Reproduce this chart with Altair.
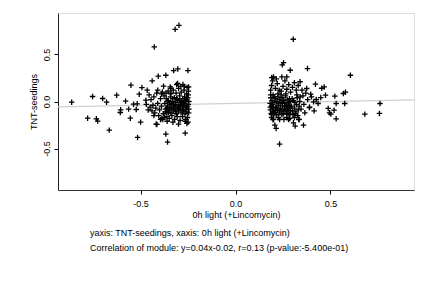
import altair as alt
import pandas as pd

# ---- data ----
left_outliers = [
    [-0.863, -0.007], [-0.779, -0.177], [-0.753, 0.053], [-0.733, -0.184], [-0.726, -0.208],
    [-0.700, 0.032], [-0.679, -0.007], [-0.665, -0.304], [-0.626, 0.067], [-0.605, -0.088],
    [-0.607, -0.117], [-0.579, 0.004], [-0.563, -0.081], [-0.554, -0.177], [-0.551, 0.173],
    [-0.516, -0.382], [-0.500, -0.219], [-0.493, 0.148], [-0.518, -0.025], [-0.507, 0.078],
    [-0.537, -0.028], [-0.523, -0.085], [-0.472, 0.014], [-0.465, 0.120], [-0.439, 0.219],
    [-0.428, 0.580], [-0.418, -0.240], [-0.407, 0.269], [-0.388, -0.180], [-0.379, 0.163],
    [-0.367, -0.346], [-0.367, 0.279], [-0.358, -0.431], [-0.326, 0.329], [-0.318, 0.767],
    [-0.304, 0.346], [-0.298, 0.809], [-0.305, 0.191], [-0.277, 0.180], [-0.265, -0.336],
    [-0.251, 0.329], [-0.247, 0.155], [-0.256, -0.233], [-0.344, 0.155], [-0.414, -0.244],
    [-0.455, 0.070], [-0.340, 0.090],
]
left_core = [
    [-0.372, -0.02], [-0.368, -0.08], [-0.365, 0.03], [-0.361, -0.11], [-0.357, -0.05],
    [-0.354, 0.01], [-0.350, -0.09], [-0.347, -0.03], [-0.343, 0.05], [-0.340, -0.12],
    [-0.336, -0.06], [-0.333, 0.00], [-0.329, -0.10], [-0.326, -0.04], [-0.322, 0.04],
    [-0.319, -0.08], [-0.315, -0.01], [-0.312, -0.13], [-0.308, -0.06], [-0.305, 0.02],
    [-0.301, -0.10], [-0.298, -0.03], [-0.294, 0.06], [-0.291, -0.07], [-0.287, -0.12],
    [-0.284, -0.01], [-0.280, -0.05], [-0.277, 0.03], [-0.273, -0.09], [-0.270, -0.02],
    [-0.266, -0.13], [-0.263, 0.01], [-0.259, -0.06], [-0.256, -0.11], [-0.252, 0.04],
    [-0.249, -0.03], [-0.246, -0.08], [-0.246, 0.00], [-0.247, -0.12], [-0.249, 0.07],
    [-0.252, -0.05], [-0.258, 0.02], [-0.262, -0.08], [-0.268, 0.05], [-0.272, -0.04],
    [-0.278, -0.10], [-0.283, 0.00], [-0.289, -0.04], [-0.293, 0.01], [-0.297, -0.08],
    [-0.303, -0.05], [-0.310, 0.03], [-0.314, -0.11], [-0.318, -0.03], [-0.324, -0.07],
    [-0.331, 0.03], [-0.338, -0.02], [-0.345, -0.07], [-0.352, -0.12], [-0.359, 0.00],
    [-0.363, -0.07], [-0.370, -0.11],
]
left_spread = [
    [-0.450, -0.06], [-0.440, -0.10], [-0.445, 0.02], [-0.435, -0.04], [-0.430, 0.05],
    [-0.425, -0.12], [-0.420, -0.07], [-0.415, 0.09], [-0.410, -0.02], [-0.405, -0.15],
    [-0.400, -0.09], [-0.395, 0.03], [-0.390, -0.05], [-0.385, 0.10], [-0.383, -0.19],
    [-0.380, -0.13], [-0.376, 0.06], [-0.373, -0.17], [-0.366, 0.09], [-0.362, -0.16],
    [-0.355, 0.11], [-0.349, -0.18], [-0.342, 0.08], [-0.335, -0.15], [-0.328, 0.12],
    [-0.321, -0.19], [-0.313, 0.09], [-0.307, -0.16], [-0.300, 0.14], [-0.292, -0.20],
    [-0.286, 0.10], [-0.279, -0.16], [-0.271, 0.12], [-0.265, -0.21], [-0.258, 0.08],
    [-0.253, -0.17], [-0.248, 0.11], [-0.250, -0.22], [-0.255, 0.15], [-0.262, -0.19],
    [-0.270, 0.16], [-0.288, 0.16], [-0.310, 0.18], [-0.340, 0.14], [-0.360, -0.21],
    [-0.330, -0.22], [-0.300, -0.24], [-0.390, 0.08], [-0.430, -0.15], [-0.460, -0.09],
    [-0.470, -0.03], [-0.410, 0.12], [-0.395, -0.19],
]
right_core = [
    [0.182, -0.02], [0.184, -0.09], [0.186, 0.04], [0.188, -0.13], [0.190, -0.05],
    [0.192, 0.01], [0.194, -0.11], [0.196, -0.03], [0.198, 0.07], [0.200, -0.08],
    [0.203, -0.01], [0.206, -0.12], [0.209, 0.03], [0.212, -0.06], [0.215, -0.14],
    [0.218, 0.00], [0.221, -0.09], [0.224, 0.05], [0.227, -0.04], [0.230, -0.12],
    [0.233, 0.02], [0.236, -0.07], [0.239, -0.01], [0.242, -0.10], [0.245, 0.04],
    [0.248, -0.05], [0.251, -0.13], [0.254, 0.01], [0.257, -0.08], [0.260, -0.02],
    [0.263, 0.06], [0.266, -0.11], [0.269, -0.04], [0.272, 0.02], [0.275, -0.09],
    [0.278, -0.01], [0.281, -0.13], [0.284, 0.03], [0.287, -0.06], [0.290, -0.10],
    [0.288, 0.00], [0.283, -0.04], [0.276, -0.07], [0.270, -0.13], [0.262, -0.05],
    [0.255, -0.10], [0.247, -0.02], [0.240, 0.07], [0.232, -0.10], [0.225, -0.02],
    [0.217, -0.07], [0.210, -0.10], [0.204, 0.05], [0.197, -0.06], [0.191, -0.14],
    [0.185, 0.07], [0.183, -0.06], [0.201, -0.14], [0.223, 0.08], [0.244, -0.14],
    [0.265, 0.08], [0.286, -0.14],
]
right_block = [
    [0.295, -0.05], [0.300, -0.10], [0.305, 0.01], [0.310, -0.07], [0.315, -0.13],
    [0.320, -0.03], [0.325, 0.04], [0.330, -0.09], [0.335, -0.05], [0.298, 0.03],
    [0.312, -0.01], [0.318, -0.11], [0.328, -0.15], [0.338, 0.00], [0.303, -0.14],
    [0.323, 0.07], [0.345, -0.08], [0.340, 0.05],
]
right_spread = [
    [0.185, 0.12], [0.190, 0.17], [0.195, 0.22], [0.200, 0.26], [0.200, -0.19],
    [0.190, -0.17], [0.210, 0.14], [0.220, 0.19], [0.225, -0.17], [0.240, 0.11],
    [0.250, 0.16], [0.255, -0.19], [0.260, 0.22], [0.270, 0.13], [0.280, 0.18],
    [0.285, -0.18], [0.290, 0.10], [0.300, 0.15], [0.310, 0.20], [0.320, 0.12],
    [0.330, 0.17], [0.335, -0.19], [0.340, 0.21], [0.350, 0.12], [0.355, 0.06],
    [0.360, -0.03], [0.365, -0.12], [0.370, 0.09], [0.380, 0.02], [0.390, -0.06],
    [0.400, 0.05], [0.310, -0.17], [0.270, -0.17], [0.230, 0.12], [0.215, 0.24],
]
right_outliers = [
    [0.304, 0.661], [0.253, 0.413], [0.246, 0.389], [0.270, 0.261], [0.244, 0.261],
    [0.288, 0.332], [0.379, 0.350], [0.191, 0.254], [0.605, 0.279], [0.421, 0.184],
    [0.467, 0.155], [0.454, 0.141], [0.375, 0.138], [0.568, 0.085], [0.579, 0.099],
    [0.523, 0.057], [0.474, 0.067], [0.449, 0.042], [0.396, 0.078], [0.425, 0.021],
    [0.411, -0.004], [0.435, -0.021], [0.530, -0.021], [0.575, -0.021], [0.761, -0.021],
    [0.389, -0.064], [0.488, -0.074], [0.519, -0.092], [0.414, -0.099], [0.495, -0.120],
    [0.502, -0.134], [0.681, -0.134], [0.758, -0.127], [0.530, -0.184], [0.232, -0.452],
    [0.207, -0.251], [0.214, -0.286], [0.314, -0.261], [0.305, -0.226], [0.358, -0.251],
    [0.333, -0.191], [0.279, -0.191], [0.232, -0.191], [0.197, -0.191],
]

fit_slope = 0.04
fit_intercept = -0.02
axis_domain = [-0.935, 0.94]
tick_values = [-0.5, 0.0, 0.5]
x_title = "0h light (+Lincomycin)"
y_title = "TNT-seedings"
caption_lines = [
    "yaxis: TNT-seedings, xaxis: 0h light (+Lincomycin)",
    "Correlation of module: y=0.04x-0.02, r=0.13 (p-value:-5.400e-01)",
]

# ---- tables ----
pts = left_outliers + left_core + left_spread + right_core + right_block + right_spread + right_outliers
df = pd.DataFrame(pts, columns=["x", "y"])
line_df = pd.DataFrame({"x": axis_domain})
line_df["y"] = fit_slope * line_df["x"] + fit_intercept

FONT = "Liberation Sans"
W, H = 356, 177
LABEL_EXPR = "(datum.value < 0 ? '-' : '') + format(abs(datum.value), '.1f')"

xs = alt.Scale(domain=axis_domain, nice=False, zero=False)
ys = alt.Scale(domain=[-0.94, 0.94], nice=False, zero=False)

x_axis = alt.Axis(values=tick_values, labelExpr=LABEL_EXPR, title=x_title, grid=False,
                  tickSize=4, tickColor="black", domain=True, domainColor="#333333",
                  labelPadding=5, titlePadding=2, labelFontSize=9, titleFontSize=9,
                  labelFont=FONT, titleFont=FONT, titleFontWeight="normal",
                  labelColor="black", titleColor="black")
y_axis = alt.Axis(values=tick_values, labelExpr=LABEL_EXPR, title=y_title, grid=False,
                  tickSize=4, tickColor="black", domain=True, domainColor="#222222",
                  labelAngle=-90, labelPadding=3, titlePadding=4, labelFontSize=9,
                  titleFontSize=9, labelFont=FONT, titleFont=FONT, titleFontWeight="normal",
                  labelColor="black", titleColor="black")

line = alt.Chart(line_df).mark_line(color="#d0d0d0", strokeWidth=1.2, clip=True).encode(
    x=alt.X("x:Q", scale=xs, axis=x_axis),
    y=alt.Y("y:Q", scale=ys, axis=y_axis),
)

points = alt.Chart(df).mark_point(
    shape="M-1,0L1,0M0,-1L0,1", filled=False, color="black", strokeWidth=1.3, size=30, opacity=1
).encode(
    x=alt.X("x:Q", scale=xs),
    y=alt.Y("y:Q", scale=ys),
)

caption_layers = []
for i, txt in enumerate(caption_lines):
    cdf = pd.DataFrame({"t": [txt]})
    caption_layers.append(
        alt.Chart(cdf).mark_text(
            align="left", baseline="middle", font=FONT, fontSize=9, color="black"
        ).encode(
            x=alt.value(32),
            y=alt.value(H + 43 + 15 * i),
            text="t:N",
        )
    )

chart = alt.layer(line, points, *caption_layers).properties(
    width=W, height=H,
    autosize=alt.AutoSizeParams(type="none"),
    padding={"left": 58, "top": 13, "right": 18, "bottom": 98},
).configure_view(stroke="#777777", strokeWidth=1).configure(background="white")

chart.save("out.html", embed_options={"renderer": "svg", "actions": False})
